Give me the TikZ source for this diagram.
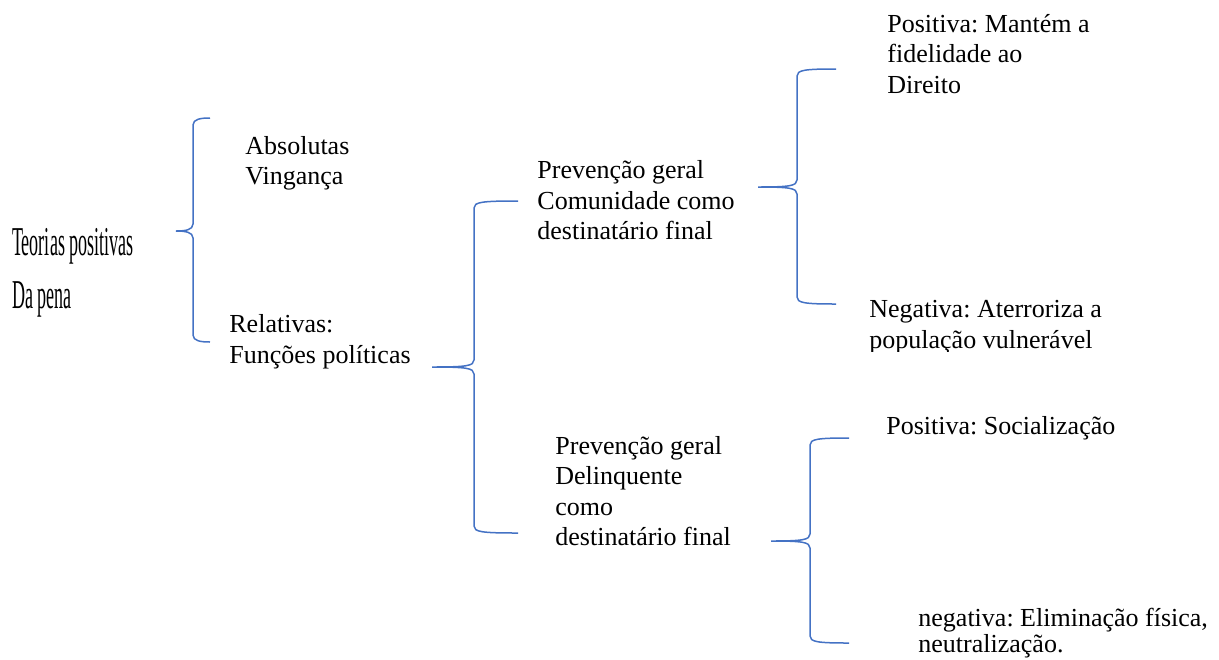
\documentclass[tikz,border=0pt]{standalone}
\usepackage{fontspec}
\setmainfont{Liberation Serif}
\frenchspacing
\definecolor{bracecol}{HTML}{4472C4}
\newcommand\wbrace[6]{% x-line, y-top, y-cusp, y-bottom, x-tip, x-cusp
  \draw[bracebar] (#5,#2) .. controls (#1+8,#2) and (#1,#2+1) .. (#1,#2+7)
    -- (#1,#3-7) .. controls (#1,#3-1) and (#1-8,#3) .. (#6,#3)
    (#6,#3) .. controls (#1-8,#3) and (#1,#3+1) .. (#1,#3+7)
    -- (#1,#4-7) .. controls (#1,#4-1) and (#1+8,#4) .. (#5,#4);}
\tikzset{
  bracebar/.style={draw=bracecol, line width=0.75pt, line join=round},
  txt/.style={anchor=base west, inner sep=0pt, font=\fontsize{13}{15}\selectfont},
  cond/.style={anchor=base west, inner sep=0pt, font=\fontsize{20.5}{24}\selectfont, xscale=0.44}
}
\begin{document}
\begin{tikzpicture}[x=0.5pt,y=-0.5pt]
\useasboundingbox (0,0) rectangle (1219,659);
% braces
\wbrace{193}{118}{231}{342}{210}{176}
\wbrace{474}{201}{367}{533}{518}{432}
\wbrace{797}{69}{187}{304}{836}{758}
\wbrace{810}{438}{541}{643}{849}{771}
% root
\node[cond] (root1) at (12,255) {Teorias positivas};
\node[cond] (root2) at (12,308) {Da pena};
% level 1
\node[txt] (abs1) at (245,154) {Absolutas};
\node[txt] (abs2) at (245,184) {Vingança};
\node[txt] (rel1) at (229,332) {Relativas:};
\node[txt] (rel2) at (229,363) {Funções políticas};
% level 2 upper
\node[txt] (pg1) at (537,178) {Prevenção geral};
\node[txt] (pg2) at (537,209) {Comunidade como};
\node[txt] (pg3) at (537,239) {destinatário final};
% level 2 lower
\node[txt] (pd1) at (555,454) {Prevenção geral};
\node[txt] (pd2) at (555,484) {Delinquente};
\node[txt] (pd3) at (555,515) {como};
\node[txt] (pd4) at (555,545) {destinatário final};
% level 3 upper
\node[txt] (pos1) at (887,32) {Positiva: Mantém a};
\node[txt] (pos2) at (887,62) {fidelidade ao};
\node[txt] (pos3) at (887,93) {Direito};
\node[txt] (neg1) at (869,317) {Negativa: Aterroriza a};
\begin{scope}
\clip (860,322) rectangle (1219,351);
\node[txt] (neg2) at (869,348) {população vulnerável};
\end{scope}
% level 3 lower
\node[txt] (soc) at (886,434) {Positiva: Socialização};
\node[txt] (eli1) at (918,626) {negativa: Eliminação física,};
\node[txt] (eli2) at (918,652) {neutralização.};
\end{tikzpicture}
\end{document}
